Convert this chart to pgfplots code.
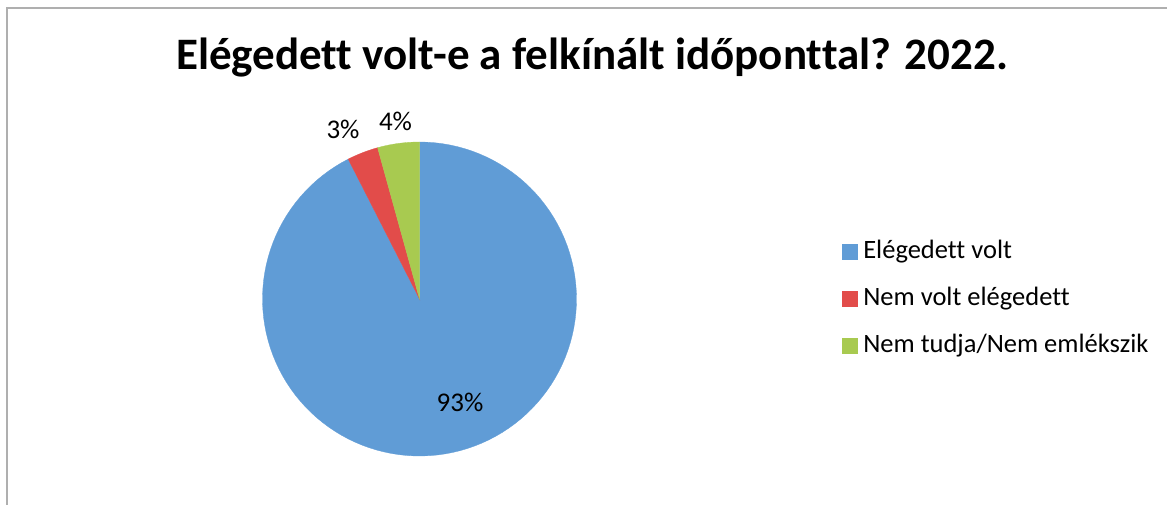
\documentclass[border=0pt]{standalone}
\usepackage{fontspec}
\setmainfont{Carlito}[Ligatures=NoCommon]
\usepackage{pgfplots}
\usepackage{pgfplotstable}
\pgfplotsset{compat=1.18}
\definecolor{cBlue}{RGB}{96,156,214}
\definecolor{cRed}{RGB}{226,76,74}
\definecolor{cGreen}{RGB}{168,202,80}
\definecolor{frameGray}{RGB}{175,175,175}
\pgfplotstableread{
idx value color
0 92.5 cBlue
1 3.2 cRed
2 4.3 cGreen
}\piedata
\begin{document}
\begin{tikzpicture}
\useasboundingbox (0,0) rectangle (1167bp,505bp);
\begin{axis}[
  at={(0,0)}, anchor=south west,
  width=1167bp, height=505bp, scale only axis,
  xmin=0, xmax=1167, ymin=0, ymax=505, y dir=reverse,
  hide axis, clip=false,
  legend entries={Elégedett volt, Nem volt elégedett, Nem tudja/Nem emlékszik},
  legend image code/.code={\fill[#1] (0bp,-7bp) rectangle (14.5bp,7.5bp); \path (21bp,0bp);},
  legend style={draw=none, fill=none, inner sep=0pt, outer sep=0pt,
    at={(axis cs:842,240)}, anchor=north west,
    row sep=23bp, column sep=0pt,
    font=\fontsize{26.5bp}{30bp}\selectfont,
    nodes={inner sep=0pt, text height=18bp, text depth=6bp}},
  legend cell align=left,
]
\xdef\cum{0}
\pgfplotsinvokeforeach{0,1,2}{
  \pgfplotstablegetelem{#1}{value}\of\piedata
  \pgfmathsetmacro\sA{90-3.6*\cum}
  \pgfmathsetmacro\newcum{\cum+\pgfplotsretval}
  \xdef\cum{\newcum}
  \pgfmathsetmacro\eA{90-3.6*\cum}
  \pgfplotstablegetelem{#1}{color}\of\piedata
  \edef\col{\pgfplotsretval}
  \edef\temp{\noexpand\addplot[fill=\col, draw=\col, line width=0.3bp, domain=\eA:\sA, samples=120]
    ({419.5+157*cos(x)},{299-157*sin(x)}) -- (axis cs:419.5,299) -- cycle;}
  \temp
}
\draw[frameGray, line width=1.5bp] (axis cs:7,505) -- (axis cs:7,8) -- (axis cs:1167,8);
\node[font=\bfseries\fontsize{45bp}{52bp}\selectfont, anchor=base] at (axis cs:592,70)
  {Elégedett volt-e a felkínált időponttal? 2022.};
\node[font=\fontsize{27bp}{32bp}\selectfont, anchor=base] at (axis cs:460,411.5) {93\%};
\node[font=\fontsize{27bp}{32bp}\selectfont, anchor=base] at (axis cs:343,138) {3\%};
\node[font=\fontsize{27bp}{32bp}\selectfont, anchor=base] at (axis cs:395.5,130) {4\%};
\end{axis}
\end{tikzpicture}
\end{document}
